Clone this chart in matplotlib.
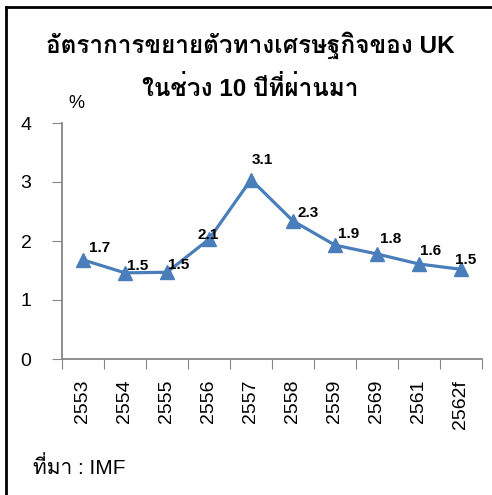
import matplotlib
matplotlib.use("Agg")
import matplotlib.pyplot as plt

# Liberation Sans for latin/digits, Loma (Tahoma-like) for the Thai text
plt.rcParams['font.family'] = ['Liberation Sans', 'Loma', 'DejaVu Sans']

years = ["2553", "2554", "2555", "2556", "2557", "2558", "2559", "2569", "2561", "2562f"]
growth = [1.68, 1.46, 1.47, 2.03, 3.04, 2.34, 1.93, 1.78, 1.61, 1.52]
point_labels = ["1.7", "1.5", "1.5", "2.1", "3.1", "2.3", "1.9", "1.8", "1.6", "1.5"]

title_lines = ["อัตราการขยายตัวทางเศรษฐกิจของ UK", "ในช่วง 10 ปีที่ผ่านมา"]
source = "ที่มา : IMF"

# label nudges in points (Excel placed them a bit unevenly)
label_nudge = [(4, 6), (1.5, 2), (1, 2), (-8.5, 0), (0.7, 11),
               (3.5, 3), (2, 5), (2, 8), (0.7, 6.5), (-4, 3.5)]

fig = plt.figure(figsize=(4.92, 4.95), dpi=100)
ax = fig.add_axes([62/492, 1 - 359/495, 420/492, 236/495])

x = list(range(len(years)))
ax.plot(x, growth, color="#4A7EBB", lw=2.3, marker="^", ms=10,
        markeredgecolor="#4A7EBB", markerfacecolor="#4A7EBB")
for xi, yi, lab, off in zip(x, growth, point_labels, label_nudge):
    ax.annotate(lab, (xi, yi), xytext=off, textcoords="offset points",
                fontsize=11, fontweight="bold")

ax.set_xlim(-0.5, len(years) - 0.5)
ax.set_ylim(0, 4)
ax.set_yticks([0, 1, 2, 3, 4])
ax.set_xticks([i - 0.5 for i in range(len(years) + 1)])
ax.set_xticklabels([])
ax.set_xticks(x, minor=True)
ax.set_xticklabels(years, minor=True, rotation=90, fontsize=14)
ax.tick_params(axis="x", which="minor", length=0, pad=15)
ax.tick_params(axis="x", which="major", length=7, color="#868686", direction="out")
ax.tick_params(axis="y", length=7, color="#868686", labelsize=14, pad=15)

for s in ["top", "right"]:
    ax.spines[s].set_visible(False)
for s in ["left", "bottom"]:
    ax.spines[s].set_color("#868686")
    ax.spines[s].set_linewidth(1.3)

fig.text(68/492, 1 - 103/495, "%", fontsize=13, va="center")
for line, ypix in zip(title_lines, [45, 88]):
    fig.text(250/492, 1 - ypix/495, line, fontsize=17.5, fontweight="bold",
             ha="center", va="center")
fig.text(33/492, 1 - 467/495, source, fontsize=15, va="center")

# frame around the chart (left and top only, like the crop)
fig.add_artist(plt.Line2D([6/492, 6/492], [0, 1 - 7/495], color="black", lw=2))
fig.add_artist(plt.Line2D([6/492, 1], [1 - 7/495, 1 - 7/495], color="black", lw=2))

fig.savefig("out.png", dpi=100)
